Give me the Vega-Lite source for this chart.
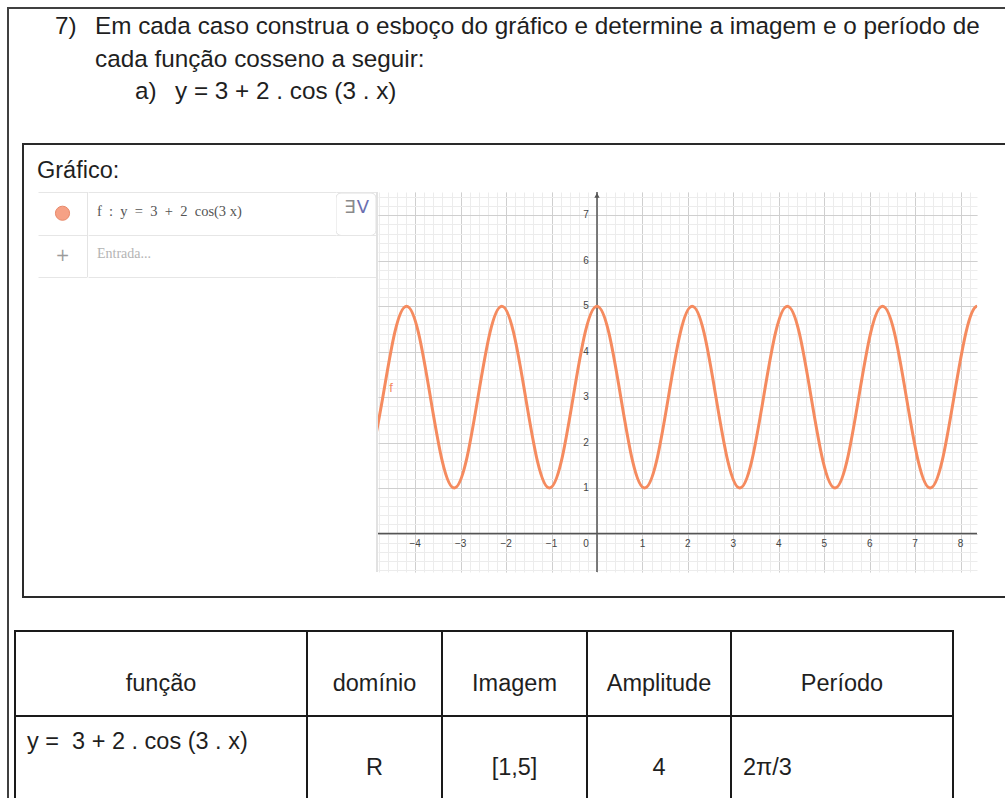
{
  "$schema": "https://vega.github.io/schema/vega-lite/v6.json",
  "background": "white",
  "padding": {"left": 7, "top": 7, "right": 0, "bottom": 0},
  "autosize": {"type": "pad"},
  "config": {"view": {"stroke": null}, "font": "Liberation Sans"},
  "datasets": {
    "heading": [
      {"line": 1, "indent": 0, "text": "7)"},
      {"line": 1, "indent": 1, "text": "Em cada caso construa o esboço do gráfico e determine a imagem e o período de"},
      {"line": 2, "indent": 1, "text": "cada função cosseno a seguir:"},
      {"line": 3, "indent": 2, "text": "a)"},
      {"line": 3, "indent": 3, "text": "y = 3 + 2 . cos (3 . x)"}
    ],
    "algebra": [
      {"panel": "algebra", "row": 1, "marker": "dot", "text": "f\u00a0\u00a0:\u00a0\u00a0y\u00a0\u00a0=\u00a0\u00a03\u00a0\u00a0+\u00a0\u00a02\u00a0\u00a0cos(3\u00a0x)"},
      {"panel": "algebra", "row": 2, "marker": "+", "text": "Entrada..."}
    ],
    "xticks": [
      {"v": -4, "t": "−4"}, {"v": -3, "t": "−3"}, {"v": -2, "t": "−2"}, {"v": -1, "t": "−1"},
      {"v": 1, "t": "1"}, {"v": 2, "t": "2"}, {"v": 3, "t": "3"}, {"v": 4, "t": "4"},
      {"v": 5, "t": "5"}, {"v": 6, "t": "6"}, {"v": 7, "t": "7"}, {"v": 8, "t": "8"}
    ],
    "yticks": [
      {"v": 1, "t": "1"}, {"v": 2, "t": "2"}, {"v": 3, "t": "3"}, {"v": 4, "t": "4"},
      {"v": 5, "t": "5"}, {"v": 6, "t": "6"}, {"v": 7, "t": "7"}
    ],
    "curve": [
      {"x": -4.974, "y": 1.586}, {"x": -4.712, "y": 3}, {"x": -4.451, "y": 4.414}, {"x": -4.189, "y": 5},
      {"x": -3.927, "y": 4.414}, {"x": -3.665, "y": 3}, {"x": -3.403, "y": 1.586}, {"x": -3.142, "y": 1},
      {"x": -2.88, "y": 1.586}, {"x": -2.618, "y": 3}, {"x": -2.356, "y": 4.414}, {"x": -2.094, "y": 5},
      {"x": -1.833, "y": 4.414}, {"x": -1.571, "y": 3}, {"x": -1.309, "y": 1.586}, {"x": -1.047, "y": 1},
      {"x": -0.785, "y": 1.586}, {"x": -0.524, "y": 3}, {"x": -0.262, "y": 4.414}, {"x": 0, "y": 5},
      {"x": 0.262, "y": 4.414}, {"x": 0.524, "y": 3}, {"x": 0.785, "y": 1.586}, {"x": 1.047, "y": 1},
      {"x": 1.309, "y": 1.586}, {"x": 1.571, "y": 3}, {"x": 1.833, "y": 4.414}, {"x": 2.094, "y": 5},
      {"x": 2.356, "y": 4.414}, {"x": 2.618, "y": 3}, {"x": 2.88, "y": 1.586}, {"x": 3.142, "y": 1},
      {"x": 3.403, "y": 1.586}, {"x": 3.665, "y": 3}, {"x": 3.927, "y": 4.414}, {"x": 4.189, "y": 5},
      {"x": 4.451, "y": 4.414}, {"x": 4.712, "y": 3}, {"x": 4.974, "y": 1.586}, {"x": 5.236, "y": 1},
      {"x": 5.498, "y": 1.586}, {"x": 5.76, "y": 3}, {"x": 6.021, "y": 4.414}, {"x": 6.283, "y": 5},
      {"x": 6.545, "y": 4.414}, {"x": 6.807, "y": 3}, {"x": 7.069, "y": 1.586}, {"x": 7.33, "y": 1},
      {"x": 7.592, "y": 1.586}, {"x": 7.854, "y": 3}, {"x": 8.116, "y": 4.414}, {"x": 8.378, "y": 5},
      {"x": 8.639, "y": 4.414}
    ],
    "table": [
      {"col": "funcao", "row": "header", "text": "função"},
      {"col": "dominio", "row": "header", "text": "domínio"},
      {"col": "imagem", "row": "header", "text": "Imagem"},
      {"col": "amplitude", "row": "header", "text": "Amplitude"},
      {"col": "periodo", "row": "header", "text": "Período"},
      {"col": "funcao", "row": "data", "text": "y = \u00a03 + 2 . cos (3 . x)"},
      {"col": "dominio", "row": "data", "text": "R"},
      {"col": "imagem", "row": "data", "text": "[1,5]"},
      {"col": "amplitude", "row": "data", "text": "4"},
      {"col": "periodo", "row": "data", "text": "2π/3"}
    ]
  },
  "spacing": 0,
  "bounds": "full",
  "hconcat": [
    {"width": 2, "height": 791, "data": {"values": []}, "mark": "point", "view": {"fill": "#404040", "stroke": null}},
    {
      "spacing": 0, "bounds": "full",
      "vconcat": [
        {"width": 996, "height": 2, "data": {"values": []}, "mark": "point", "view": {"fill": "#404040", "stroke": null}},
        {
          "width": 996, "height": 134,
          "data": {"name": "heading"},
          "mark": {"type": "text", "align": "left", "baseline": "alphabetic", "font": "Liberation Sans", "fontSize": 24.3, "color": "#1f1f1f"},
          "encoding": {
            "x": {"field": "indent", "type": "quantitative", "scale": {"domain": [-1.15, 23.75], "nice": false, "zero": false}, "axis": null},
            "y": {"field": "line", "type": "quantitative", "scale": {"domain": [0.2308, 4.3538], "nice": false, "zero": false, "reverse": true}, "axis": null},
            "text": {"field": "text"}
          }
        },
        {
          "spacing": 0, "bounds": "full",
          "hconcat": [
            {"width": 13, "height": 455, "data": {"values": []}, "mark": "point"},
            {"width": 2, "height": 455, "data": {"values": []}, "mark": "point", "view": {"fill": "#2a2a2a", "stroke": null}},
            {
              "spacing": 0, "bounds": "full",
              "vconcat": [
                {"width": 981, "height": 2, "data": {"values": []}, "mark": "point", "view": {"fill": "#2a2a2a", "stroke": null}},
                {
                  "width": 981, "height": 47,
                  "data": {"values": [{"panel": "grafico", "text": "Gráfico:"}]},
                  "mark": {"type": "text", "align": "left", "baseline": "alphabetic", "font": "Liberation Sans", "fontSize": 23.5, "color": "#1f1f1f", "dx": 13, "dy": 9.5},
                  "encoding": {
                    "x": {"field": "panel", "type": "nominal", "bandPosition": 0, "scale": {"type": "band", "paddingInner": 0, "paddingOuter": 0}, "axis": null},
                    "text": {"field": "text"}
                  }
                },
                {
                  "spacing": 0, "bounds": "full",
                  "hconcat": [
                    {"width": 14, "height": 380, "data": {"values": []}, "mark": "point"},
                    {
                      "spacing": 0, "bounds": "full",
                      "vconcat": [
                        {
                          "spacing": 0, "bounds": "flush",
                          "hconcat": [
                            {
                              "width": 49, "height": 85,
                              "data": {"name": "algebra"},
                              "layer": [
                                {
                                  "transform": [{"filter": "datum.marker == 'dot'"}],
                                  "mark": {"type": "circle", "size": 200, "fill": "#f6a185", "stroke": "#e8896a", "strokeWidth": 1, "opacity": 1},
                                  "encoding": {
                                    "y": {"field": "row", "type": "ordinal", "scale": {"type": "band", "domain": [1, 2], "paddingInner": 0, "paddingOuter": 0}, "axis": {"grid": true, "tickBand": "extent", "gridColor": "#e6e6e6", "gridWidth": 1, "domain": false, "ticks": false, "labels": false, "title": null}}
                                  }
                                },
                                {
                                  "transform": [{"filter": "datum.marker == '+'"}],
                                  "mark": {"type": "text", "font": "DejaVu Sans", "fontSize": 17, "color": "#9b9b9b", "baseline": "middle"},
                                  "encoding": {
                                    "y": {"field": "row", "type": "ordinal", "scale": {"type": "band", "domain": [1, 2], "paddingInner": 0, "paddingOuter": 0}, "axis": {"grid": true, "tickBand": "extent", "gridColor": "#e6e6e6", "gridWidth": 1, "domain": false, "ticks": false, "labels": false, "title": null}},
                                    "text": {"field": "marker"}
                                  }
                                }
                              ]
                            },
                            {"width": 1, "height": 85, "data": {"values": []}, "mark": "point", "view": {"fill": "#e4e4e4", "stroke": null}},
                            {
                              "width": 248, "height": 85,
                              "data": {"name": "algebra"},
                              "layer": [
                                {
                                  "transform": [{"filter": "datum.row == 1"}],
                                  "mark": {"type": "text", "align": "left", "baseline": "middle", "font": "Liberation Serif", "fontSize": 14.5, "color": "#555555", "dx": 9, "dy": -1},
                                  "encoding": {
                                    "x": {"field": "panel", "type": "nominal", "bandPosition": 0, "scale": {"type": "band", "paddingInner": 0, "paddingOuter": 0}, "axis": null},
                                    "y": {"field": "row", "type": "ordinal", "scale": {"type": "band", "domain": [1, 2], "paddingInner": 0, "paddingOuter": 0}, "axis": {"grid": true, "tickBand": "extent", "gridColor": "#e6e6e6", "gridWidth": 1, "domain": false, "ticks": false, "labels": false, "title": null}},
                                    "text": {"field": "text"}
                                  }
                                },
                                {
                                  "transform": [{"filter": "datum.row == 2"}],
                                  "mark": {"type": "text", "align": "left", "baseline": "middle", "font": "Liberation Serif", "fontSize": 14, "color": "#b4b4b4", "dx": 9, "dy": -2},
                                  "encoding": {
                                    "x": {"field": "panel", "type": "nominal", "bandPosition": 0, "scale": {"type": "band", "paddingInner": 0, "paddingOuter": 0}, "axis": null},
                                    "y": {"field": "row", "type": "ordinal", "scale": {"type": "band", "domain": [1, 2], "paddingInner": 0, "paddingOuter": 0}, "axis": {"grid": true, "tickBand": "extent", "gridColor": "#e6e6e6", "gridWidth": 1, "domain": false, "ticks": false, "labels": false, "title": null}},
                                    "text": {"field": "text"}
                                  }
                                }
                              ]
                            },
                            {
                              "width": 40, "height": 85,
                              "data": {"name": "algebra"},
                              "transform": [{"filter": "datum.row == 1"}],
                              "layer": [
                                {
                                  "mark": {"type": "rect", "fill": "#ffffff", "stroke": "#e0e0e0", "strokeWidth": 1, "cornerRadius": 5, "yOffset": 1, "y2Offset": -6, "clip": true},
                                  "encoding": {
                                    "y": {"field": "row", "type": "ordinal", "scale": {"type": "band", "domain": [1, 2], "paddingInner": 0, "paddingOuter": 0}, "axis": {"grid": true, "tickBand": "extent", "gridColor": "#e6e6e6", "gridWidth": 1, "domain": false, "ticks": false, "labels": false, "title": null}}
                                  }
                                },
                                {
                                  "mark": {"type": "text", "font": "DejaVu Sans", "fontSize": 18, "color": "#8a8a8a", "baseline": "middle", "dx": -6, "dy": -5, "text": "∃"},
                                  "encoding": {
                                    "y": {"field": "row", "type": "ordinal", "scale": {"type": "band", "domain": [1, 2], "paddingInner": 0, "paddingOuter": 0}, "axis": {"grid": true, "tickBand": "extent", "gridColor": "#e6e6e6", "gridWidth": 1, "domain": false, "ticks": false, "labels": false, "title": null}}
                                  }
                                },
                                {
                                  "mark": {"type": "text", "font": "DejaVu Sans", "fontSize": 18, "color": "#6b70b0", "baseline": "middle", "dx": 7, "dy": -5, "text": "V"},
                                  "encoding": {
                                    "y": {"field": "row", "type": "ordinal", "scale": {"type": "band", "domain": [1, 2], "paddingInner": 0, "paddingOuter": 0}, "axis": {"grid": true, "tickBand": "extent", "gridColor": "#e6e6e6", "gridWidth": 1, "domain": false, "ticks": false, "labels": false, "title": null}}
                                  }
                                }
                              ]
                            }
                          ]
                        },
                        {"width": 338, "height": 295, "data": {"values": []}, "mark": "point"}
                      ]
                    },
                    {"width": 2, "height": 380, "data": {"values": []}, "mark": "point", "view": {"fill": "#e2e2e2", "stroke": null}},
                    {
                      "width": 599, "height": 380,
                      "layer": [
                        {
                          "data": {"values": [{"x": 0}]},
                          "mark": {"type": "rule", "color": "#555555", "strokeWidth": 1.5, "clip": true},
                          "encoding": {
                            "x": {"field": "x", "type": "quantitative", "scale": {"domain": [-4.818, 8.361], "nice": false, "zero": false}, "axis": {"grid": true, "gridColor": "#ececec", "gridWidth": 1, "tickCount": 66, "domain": false, "ticks": false, "labels": false, "title": null}}
                          }
                        },
                        {
                          "data": {"values": [{"y": 0}]},
                          "mark": {"type": "rule", "color": "#555555", "strokeWidth": 1.5, "clip": true},
                          "encoding": {
                            "y": {"field": "y", "type": "quantitative", "scale": {"domain": [-0.847, 7.514], "nice": false, "zero": false}, "axis": {"grid": true, "gridColor": "#ececec", "gridWidth": 1, "tickCount": 42, "domain": false, "ticks": false, "labels": false, "title": null}}
                          }
                        },
                        {
                          "data": {"name": "xticks"},
                          "mark": {"type": "text", "font": "Liberation Sans", "fontSize": 10, "color": "#444444", "baseline": "middle", "dy": 10},
                          "encoding": {
                            "x": {"field": "v", "type": "quantitative", "scale": {"domain": [-4.818, 8.361], "nice": false, "zero": false}, "axis": {"grid": true, "gridColor": "#cfcfcf", "gridWidth": 1, "values": [-4, -3, -2, -1, 0, 1, 2, 3, 4, 5, 6, 7, 8], "domain": false, "ticks": false, "labels": false, "title": null}},
                            "y": {"datum": 0, "type": "quantitative", "scale": {"domain": [-0.847, 7.514], "nice": false, "zero": false}, "axis": {"grid": true, "gridColor": "#cfcfcf", "gridWidth": 1, "values": [0, 1, 2, 3, 4, 5, 6, 7], "domain": false, "ticks": false, "labels": false, "title": null}},
                            "text": {"field": "t"}
                          }
                        },
                        {
                          "data": {"name": "yticks"},
                          "mark": {"type": "text", "font": "Liberation Sans", "fontSize": 10, "color": "#444444", "baseline": "middle", "dx": -11},
                          "encoding": {
                            "y": {"field": "v", "type": "quantitative", "scale": {"domain": [-0.847, 7.514], "nice": false, "zero": false}, "axis": null},
                            "x": {"datum": 0, "type": "quantitative", "scale": {"domain": [-4.818, 8.361], "nice": false, "zero": false}, "axis": null},
                            "text": {"field": "t"}
                          }
                        },
                        {
                          "data": {"values": [{"x": 0, "y": 0, "t": "0"}]},
                          "mark": {"type": "text", "font": "Liberation Sans", "fontSize": 10, "color": "#444444", "baseline": "middle", "dx": -11, "dy": 10},
                          "encoding": {
                            "x": {"field": "x", "type": "quantitative", "scale": {"domain": [-4.818, 8.361], "nice": false, "zero": false}, "axis": null},
                            "y": {"field": "y", "type": "quantitative", "scale": {"domain": [-0.847, 7.514], "nice": false, "zero": false}, "axis": null},
                            "text": {"field": "t"}
                          }
                        },
                        {
                          "data": {"values": [{"x": 0, "y": 7.44}]},
                          "mark": {"type": "point", "shape": "triangle-up", "filled": true, "size": 28, "color": "#555555", "opacity": 1},
                          "encoding": {
                            "x": {"field": "x", "type": "quantitative", "scale": {"domain": [-4.818, 8.361], "nice": false, "zero": false}, "axis": null},
                            "y": {"field": "y", "type": "quantitative", "scale": {"domain": [-0.847, 7.514], "nice": false, "zero": false}, "axis": null}
                          }
                        },
                        {
                          "data": {"name": "curve"},
                          "mark": {"type": "line", "color": "#f58b5f", "strokeWidth": 3, "interpolate": "natural", "clip": true},
                          "encoding": {
                            "x": {"field": "x", "type": "quantitative", "scale": {"domain": [-4.818, 8.361], "nice": false, "zero": false}, "axis": null},
                            "y": {"field": "y", "type": "quantitative", "scale": {"domain": [-0.847, 7.514], "nice": false, "zero": false}, "axis": null}
                          }
                        },
                        {
                          "data": {"values": [{"x": -4.53, "y": 3.2, "t": "f"}]},
                          "mark": {"type": "text", "font": "Liberation Sans", "fontSize": 13, "color": "#f58b5f", "baseline": "middle"},
                          "encoding": {
                            "x": {"field": "x", "type": "quantitative", "scale": {"domain": [-4.818, 8.361], "nice": false, "zero": false}, "axis": null},
                            "y": {"field": "y", "type": "quantitative", "scale": {"domain": [-0.847, 7.514], "nice": false, "zero": false}, "axis": null},
                            "text": {"field": "t"}
                          }
                        }
                      ],
                      "resolve": {"axis": {"x": "independent", "y": "independent"}}
                    },
                    {"width": 28, "height": 380, "data": {"values": []}, "mark": "point"}
                  ]
                },
                {"width": 981, "height": 24, "data": {"values": []}, "mark": "point"},
                {"width": 981, "height": 2, "data": {"values": []}, "mark": "point", "view": {"fill": "#2a2a2a", "stroke": null}}
              ]
            }
          ]
        },
        {"width": 996, "height": 32, "data": {"values": []}, "mark": "point"},
        {
          "spacing": 0, "bounds": "full",
          "hconcat": [
            {"width": 5, "height": 168, "data": {"values": []}, "mark": "point"},
            {"width": 2, "height": 168, "data": {"values": []}, "mark": "point", "view": {"fill": "#1a1a1a", "stroke": null}},
            {
              "spacing": 0, "bounds": "flush",
              "vconcat": [
                {"width": 290, "height": 2, "data": {"values": []}, "mark": "point", "view": {"fill": "#1a1a1a", "stroke": null}},
                {"width": 290, "height": 83, "data": {"name": "table"}, "transform": [{"filter": "datum.col == 'funcao' && datum.row == 'header'"}], "mark": {"type": "text", "baseline": "alphabetic", "font": "Liberation Sans", "fontSize": 23.5, "color": "#1f1f1f", "dy": 17.5}, "encoding": {"text": {"field": "text"}}},
                {"width": 290, "height": 2, "data": {"values": []}, "mark": "point", "view": {"fill": "#1a1a1a", "stroke": null}},
                {"width": 290, "height": 81, "data": {"name": "table"}, "transform": [{"filter": "datum.col == 'funcao' && datum.row == 'data'"}], "mark": {"type": "text", "align": "left", "baseline": "alphabetic", "font": "Liberation Sans", "fontSize": 23.5, "color": "#1f1f1f", "dx": 11, "dy": -8.5}, "encoding": {"x": {"field": "col", "type": "nominal", "bandPosition": 0, "scale": {"type": "band", "paddingInner": 0, "paddingOuter": 0}, "axis": null}, "text": {"field": "text"}}}
              ]
            },
            {"width": 2, "height": 168, "data": {"values": []}, "mark": "point", "view": {"fill": "#1a1a1a", "stroke": null}},
            {
              "spacing": 0, "bounds": "flush",
              "vconcat": [
                {"width": 133, "height": 2, "data": {"values": []}, "mark": "point", "view": {"fill": "#1a1a1a", "stroke": null}},
                {"width": 133, "height": 83, "data": {"name": "table"}, "transform": [{"filter": "datum.col == 'dominio' && datum.row == 'header'"}], "mark": {"type": "text", "baseline": "alphabetic", "font": "Liberation Sans", "fontSize": 23.5, "color": "#1f1f1f", "dy": 17.5}, "encoding": {"text": {"field": "text"}}},
                {"width": 133, "height": 2, "data": {"values": []}, "mark": "point", "view": {"fill": "#1a1a1a", "stroke": null}},
                {"width": 133, "height": 81, "data": {"name": "table"}, "transform": [{"filter": "datum.col == 'dominio' && datum.row == 'data'"}], "mark": {"type": "text", "baseline": "alphabetic", "font": "Liberation Sans", "fontSize": 23.5, "color": "#1f1f1f", "dy": 17.5}, "encoding": {"text": {"field": "text"}}}
              ]
            },
            {"width": 2, "height": 168, "data": {"values": []}, "mark": "point", "view": {"fill": "#1a1a1a", "stroke": null}},
            {
              "spacing": 0, "bounds": "flush",
              "vconcat": [
                {"width": 143, "height": 2, "data": {"values": []}, "mark": "point", "view": {"fill": "#1a1a1a", "stroke": null}},
                {"width": 143, "height": 83, "data": {"name": "table"}, "transform": [{"filter": "datum.col == 'imagem' && datum.row == 'header'"}], "mark": {"type": "text", "baseline": "alphabetic", "font": "Liberation Sans", "fontSize": 23.5, "color": "#1f1f1f", "dy": 17.5}, "encoding": {"text": {"field": "text"}}},
                {"width": 143, "height": 2, "data": {"values": []}, "mark": "point", "view": {"fill": "#1a1a1a", "stroke": null}},
                {"width": 143, "height": 81, "data": {"name": "table"}, "transform": [{"filter": "datum.col == 'imagem' && datum.row == 'data'"}], "mark": {"type": "text", "baseline": "alphabetic", "font": "Liberation Sans", "fontSize": 23.5, "color": "#1f1f1f", "dy": 17.5}, "encoding": {"text": {"field": "text"}}}
              ]
            },
            {"width": 2, "height": 168, "data": {"values": []}, "mark": "point", "view": {"fill": "#1a1a1a", "stroke": null}},
            {
              "spacing": 0, "bounds": "flush",
              "vconcat": [
                {"width": 142, "height": 2, "data": {"values": []}, "mark": "point", "view": {"fill": "#1a1a1a", "stroke": null}},
                {"width": 142, "height": 83, "data": {"name": "table"}, "transform": [{"filter": "datum.col == 'amplitude' && datum.row == 'header'"}], "mark": {"type": "text", "baseline": "alphabetic", "font": "Liberation Sans", "fontSize": 23.5, "color": "#1f1f1f", "dy": 17.5}, "encoding": {"text": {"field": "text"}}},
                {"width": 142, "height": 2, "data": {"values": []}, "mark": "point", "view": {"fill": "#1a1a1a", "stroke": null}},
                {"width": 142, "height": 81, "data": {"name": "table"}, "transform": [{"filter": "datum.col == 'amplitude' && datum.row == 'data'"}], "mark": {"type": "text", "baseline": "alphabetic", "font": "Liberation Sans", "fontSize": 23.5, "color": "#1f1f1f", "dy": 17.5}, "encoding": {"text": {"field": "text"}}}
              ]
            },
            {"width": 2, "height": 168, "data": {"values": []}, "mark": "point", "view": {"fill": "#1a1a1a", "stroke": null}},
            {
              "spacing": 0, "bounds": "flush",
              "vconcat": [
                {"width": 220, "height": 2, "data": {"values": []}, "mark": "point", "view": {"fill": "#1a1a1a", "stroke": null}},
                {"width": 220, "height": 83, "data": {"name": "table"}, "transform": [{"filter": "datum.col == 'periodo' && datum.row == 'header'"}], "mark": {"type": "text", "baseline": "alphabetic", "font": "Liberation Sans", "fontSize": 23.5, "color": "#1f1f1f", "dy": 17.5}, "encoding": {"text": {"field": "text"}}},
                {"width": 220, "height": 2, "data": {"values": []}, "mark": "point", "view": {"fill": "#1a1a1a", "stroke": null}},
                {"width": 220, "height": 81, "data": {"name": "table"}, "transform": [{"filter": "datum.col == 'periodo' && datum.row == 'data'"}], "mark": {"type": "text", "align": "left", "baseline": "alphabetic", "font": "Liberation Sans", "fontSize": 23.5, "color": "#1f1f1f", "dx": 11, "dy": 17.5}, "encoding": {"x": {"field": "col", "type": "nominal", "bandPosition": 0, "scale": {"type": "band", "paddingInner": 0, "paddingOuter": 0}, "axis": null}, "text": {"field": "text"}}}
              ]
            },
            {"width": 2, "height": 168, "data": {"values": []}, "mark": "point", "view": {"fill": "#1a1a1a", "stroke": null}}
          ]
        }
      ]
    }
  ]
}
